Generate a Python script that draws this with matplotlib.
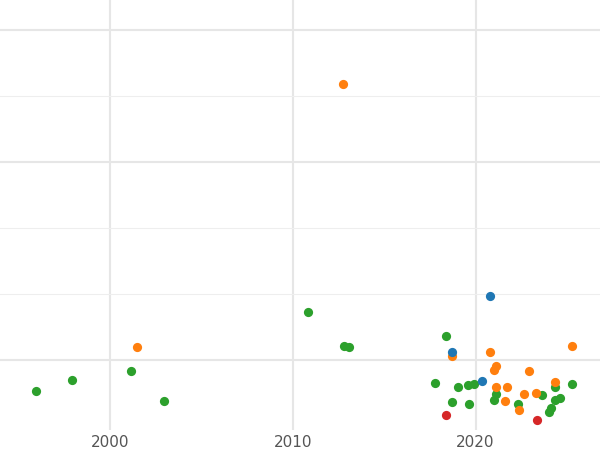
import matplotlib
matplotlib.use("Agg")
import matplotlib.pyplot as plt

green_x = [1995.96,1997.92,2001.15,2002.95,2010.82,2012.79,2013.06,2017.76,2018.36,2018.69,2019.02,2019.56,2019.62,2019.89,2020.98,2021.09,2022.30,2023.61,2023.99,2024.10,2024.32,2024.32,2024.64,2025.25]
green_y = [-0.48,-0.30,-0.17,-0.62,0.73,0.21,0.20,-0.35,0.36,-0.64,-0.41,-0.38,-0.67,-0.36,-0.61,-0.52,-0.67,-0.53,-0.79,-0.73,-0.41,-0.61,-0.58,-0.36]
orange_x = [2001.48,2012.73,2018.69,2020.77,2020.98,2021.09,2021.09,2021.58,2021.69,2022.35,2022.62,2022.90,2023.28,2024.32,2025.25]
orange_y = [0.20,4.17,0.06,0.12,-0.15,-0.09,-0.41,-0.62,-0.41,-0.76,-0.52,-0.17,-0.50,-0.33,0.21]
blue_x = [2018.69,2020.77,2020.33]
blue_y = [0.12,0.97,-0.32]
red_x = [2018.36,2023.33]
red_y = [-0.83,-0.91]

fig = plt.figure(figsize=(6,4.5), dpi=100)
ax = fig.add_axes([0,0.045,1,0.955])
ax.scatter(green_x, green_y, s=44, color="#2ca02c", zorder=3, linewidths=0)
ax.scatter(orange_x, orange_y, s=44, color="#ff7f0e", zorder=3, linewidths=0)
ax.scatter(blue_x, blue_y, s=44, color="#1f77b4", zorder=3, linewidths=0)
ax.scatter(red_x, red_y, s=44, color="#d62728", zorder=3, linewidths=0)
ax.set_xlim(1994.0, 2026.8)
ax.set_ylim(-1.06, 5.45)
ax.set_xticks([2000,2010,2020])
ax.set_yticks([0,3,5])
ax.set_yticks([1,2,4], minor=True)
ax.grid(True, which="major", color="#e6e6e6", linewidth=1.5)
ax.yaxis.grid(True, which="minor", color="#eeeeee", linewidth=0.8)
for s in ax.spines.values():
    s.set_visible(False)
ax.tick_params(which="both", length=0, labelsize=11, labelcolor="#555555")
ax.tick_params(axis="y", labelleft=False)
ax.set_axisbelow(True)
fig.savefig("out.png")
